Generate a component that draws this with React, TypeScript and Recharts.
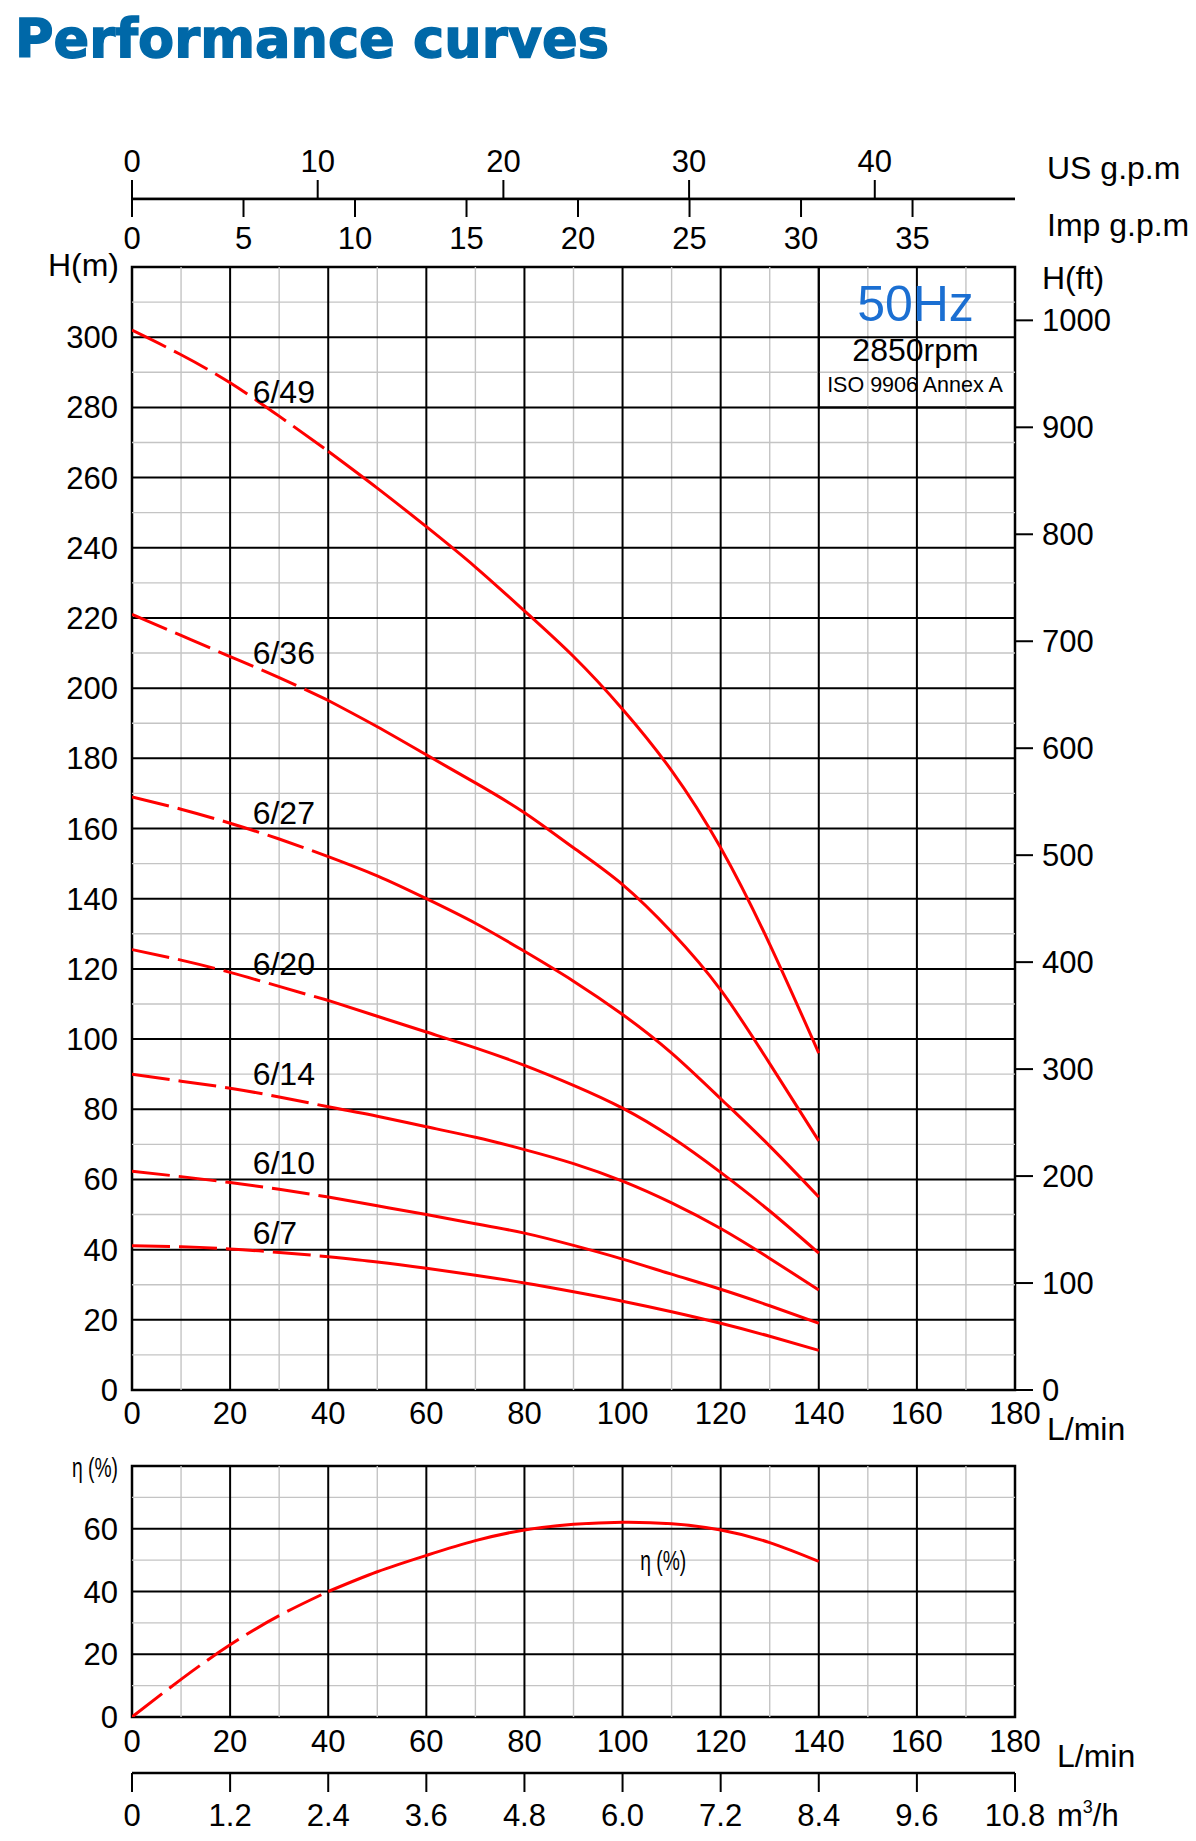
// Performance curves – pump head and efficiency chart (50Hz, 2850rpm)

import React from 'react';
import { LineChart, Line, XAxis, YAxis, ReferenceLine, ReferenceArea, ReferenceDot } from 'recharts';

const FONT = '"Liberation Sans", Arial, Helvetica, sans-serif';
const RED = '#ff0000';
const GRID_MINOR = '#c4c4c4';

// flow rate, L/min
const flow = [0, 10, 20, 30, 40, 50, 60, 70, 80, 90, 100, 110, 120, 130, 140];

// head, m (one list per model)
const head49 = [302, 295, 287, 277.5, 267.5, 257, 246, 234.5, 222, 209, 194, 176.5, 154.5, 127, 96];
const head36 = [221, 215, 209, 203, 196.5, 189, 181, 173, 164.5, 154.5, 144, 130.5, 114, 93, 71];
const head27 = [169, 165.5, 161.5, 157, 152, 146.5, 140, 133, 125, 116.5, 107, 96, 83, 69.5, 55];
const head20 = [125.5, 122.5, 119, 115, 111, 106.5, 102, 97.5, 92.5, 86.8, 80.3, 72, 62, 51, 39];
const head14 = [90, 88, 86, 83.5, 80.7, 78, 75, 72, 68.5, 64.5, 59.5, 53.3, 46, 37.5, 28.5];
const head10 = [62.3, 60.8, 59.1, 57.2, 55, 52.5, 50, 47.4, 44.7, 41.2, 37.3, 33, 28.7, 24, 19];
const head7 = [41.1, 40.8, 40.2, 39.2, 38, 36.5, 34.7, 32.7, 30.5, 28, 25.3, 22.3, 19, 15.3, 11.3];

// efficiency, %
const efficiency = [0, 12, 23, 32.3, 40, 46.3, 51.5, 56.2, 59.6, 61.4, 62.1, 61.6, 59.6, 55.6, 49.6];

const models = ['6/49', '6/36', '6/27', '6/20', '6/14', '6/10', '6/7'];
const heads = [head49, head36, head27, head20, head14, head10, head7];
// where each model name sits (L/min, m at text baseline)
const labelFlow = [24.6, 24.6, 24.6, 24.6, 24.6, 24.6, 24.6];
const labelHead = [281.3, 207, 161.3, 118.2, 86.9, 61.5, 41.6];

// curves are dashed below this flow
const DASH_END = 40;

// axis ticks
const flowTicks = [0, 20, 40, 60, 80, 100, 120, 140, 160, 180];
const flowMinor = [10, 30, 50, 70, 90, 110, 130, 150, 170];
const headTicks = [0, 20, 40, 60, 80, 100, 120, 140, 160, 180, 200, 220, 240, 260, 280, 300];
const headMajor = [20, 40, 60, 80, 100, 120, 140, 160, 180, 200, 220, 240, 260, 280, 300];
const headMinor = [10, 30, 50, 70, 90, 110, 130, 150, 170, 190, 210, 230, 250, 270, 290, 310];
const feetTicks = [0, 100, 200, 300, 400, 500, 600, 700, 800, 900, 1000];
const usTicks = [0, 10, 20, 30, 40];
const impTicks = [0, 5, 10, 15, 20, 25, 30, 35];
const effTicks = [0, 20, 40, 60];
const effMajor = [20, 40, 60];
const effMinor = [10, 30, 50, 70];
const m3hTicks = [0, 1.2, 2.4, 3.6, 4.8, 6.0, 7.2, 8.4, 9.6, 10.8];

const FLOW_MAX = 180;
const HEAD_MAX = 320;
const EFF_MAX = 80;
const M_PER_FT = 0.3048;
const LPM_PER_USGPM = 3.785411784;
const LPM_PER_IMPGPM = 4.54609;
const M3H_PER_LPM = 0.06;

const tickStyle = { fill: '#000', fontSize: 31, fontFamily: FONT };

const part = (values: number[], dashed: boolean) =>
  flow
    .map((q, i) => ({ q, v: values[i] }))
    .filter((p) => (dashed ? p.q <= DASH_END : p.q >= DASH_END));

// the same flow ticks expressed in another unit, so the extra scales have data
const scaleData = (factor: number) => flowTicks.map((q) => ({ u: q * factor }));

const gridLines = (yAxisId: string, yMinor: number[], yMajor: number[]) => [
  ...flowMinor.map((x) => (
    <ReferenceLine key={'vx' + x} yAxisId={yAxisId} x={x} stroke={GRID_MINOR} strokeWidth={1.4} />
  )),
  ...yMinor.map((y) => (
    <ReferenceLine key={'hy' + y} yAxisId={yAxisId} y={y} stroke={GRID_MINOR} strokeWidth={1.4} />
  )),
  ...flowTicks.slice(1, -1).map((x) => (
    <ReferenceLine key={'vX' + x} yAxisId={yAxisId} x={x} stroke="#000" strokeWidth={2} />
  )),
  ...yMajor.map((y) => (
    <ReferenceLine key={'hY' + y} yAxisId={yAxisId} y={y} stroke="#000" strokeWidth={2} />
  )),
];

const curve = (key: string, yAxisId: string, values: number[]) => [
  <Line
    key={key + '-d'}
    yAxisId={yAxisId}
    data={part(values, true)}
    dataKey="v"
    type="natural"
    stroke={RED}
    strokeWidth={3}
    strokeDasharray="38 9"
    dot={false}
    activeDot={false}
    isAnimationActive={false}
  />,
  <Line
    key={key + '-s'}
    yAxisId={yAxisId}
    data={part(values, false)}
    dataKey="v"
    type="natural"
    stroke={RED}
    strokeWidth={3}
    dot={false}
    activeDot={false}
    isAnimationActive={false}
  />,
];

const TopScales = () => (
  <>
    <div style={{ position: 'absolute', left: 0, top: 0 }}>
      <LineChart
        width={1196}
        height={200}
        data={scaleData(1 / LPM_PER_USGPM)}
        margin={{ top: 139, right: 181, bottom: 0, left: 132 }}
      >
        <XAxis
          xAxisId="us"
          dataKey="u"
          orientation="top"
          type="number"
          domain={[0, FLOW_MAX / LPM_PER_USGPM]}
          allowDataOverflow
          ticks={usTicks}
          interval={0}
          height={60}
          tickSize={19}
          tickMargin={8}
          axisLine={{ stroke: '#000', strokeWidth: 2.5 }}
          tickLine={{ stroke: '#000', strokeWidth: 2 }}
          tick={tickStyle}
        />
      </LineChart>
    </div>
    <div style={{ position: 'absolute', left: 0, top: 0 }}>
      <LineChart
        width={1196}
        height={259}
        data={scaleData(1 / LPM_PER_IMPGPM)}
        margin={{ top: 198, right: 181, bottom: 0, left: 132 }}
      >
        <XAxis
          xAxisId="imp"
          dataKey="u"
          orientation="bottom"
          type="number"
          domain={[0, FLOW_MAX / LPM_PER_IMPGPM]}
          allowDataOverflow
          ticks={impTicks}
          interval={0}
          height={60}
          tickSize={18}
          tickMargin={10}
          axisLine={{ stroke: '#000', strokeWidth: 2.5 }}
          tickLine={{ stroke: '#000', strokeWidth: 2 }}
          tick={tickStyle}
        />
      </LineChart>
    </div>
  </>
);

const HeadChart = () => (
  <div style={{ position: 'absolute', left: 0, top: 0 }}>
    <LineChart width={1196} height={1450} margin={{ top: 267, right: 0, bottom: 0, left: 0 }}>
      <XAxis
        type="number"
        dataKey="q"
        domain={[0, FLOW_MAX]}
        allowDataOverflow
        ticks={flowTicks}
        interval={0}
        height={60}
        tickSize={0}
        tickMargin={12}
        tickLine={false}
        axisLine={false}
        tick={tickStyle}
      />
      <YAxis
        yAxisId="m"
        type="number"
        domain={[0, HEAD_MAX]}
        allowDataOverflow
        ticks={headTicks}
        interval={0}
        width={132}
        tickSize={0}
        tickMargin={14}
        tickLine={false}
        axisLine={false}
        tick={tickStyle}
      />
      <YAxis
        yAxisId="ft"
        orientation="right"
        type="number"
        domain={[0, HEAD_MAX / M_PER_FT]}
        allowDataOverflow
        ticks={feetTicks}
        interval={0}
        width={181}
        tickSize={18}
        tickMargin={9}
        axisLine={false}
        tickLine={{ stroke: '#000', strokeWidth: 2 }}
        tick={tickStyle}
      />
      {gridLines('m', headMinor, headMajor)}
      <ReferenceArea
        yAxisId="m"
        x1={140}
        x2={FLOW_MAX}
        y1={280}
        y2={HEAD_MAX}
        fill="#fff"
        fillOpacity={1}
        stroke="#000"
        strokeWidth={2}
      />
      <ReferenceArea
        yAxisId="m"
        x1={0}
        x2={FLOW_MAX}
        y1={0}
        y2={HEAD_MAX}
        fill="none"
        stroke="#000"
        strokeWidth={2.5}
      />
      {models.map((m, i) => curve(m, 'm', heads[i]))}
      {models.map((m, i) => (
        <ReferenceDot
          key={'label' + m}
          yAxisId="m"
          x={labelFlow[i]}
          y={labelHead[i]}
          r={0}
          shape={(p: any) => (
            <text x={p.cx} y={p.cy} fontSize={32} fontFamily={FONT} fill="#000">
              {m}
            </text>
          )}
        />
      ))}
    </LineChart>
  </div>
);

const EfficiencyChart = () => (
  <div style={{ position: 'absolute', left: 0, top: 1400 }}>
    <LineChart width={1196} height={367} margin={{ top: 66, right: 181, bottom: 0, left: 0 }}>
      <XAxis
        type="number"
        dataKey="q"
        domain={[0, FLOW_MAX]}
        allowDataOverflow
        ticks={flowTicks}
        interval={0}
        height={50}
        tickSize={0}
        tickMargin={13}
        tickLine={false}
        axisLine={false}
        tick={tickStyle}
      />
      <YAxis
        yAxisId="e"
        type="number"
        domain={[0, EFF_MAX]}
        allowDataOverflow
        ticks={effTicks}
        interval={0}
        width={132}
        tickSize={0}
        tickMargin={14}
        tickLine={false}
        axisLine={false}
        tick={tickStyle}
      />
      {gridLines('e', effMinor, effMajor)}
      <ReferenceArea
        yAxisId="e"
        x1={0}
        x2={FLOW_MAX}
        y1={0}
        y2={EFF_MAX}
        fill="none"
        stroke="#000"
        strokeWidth={2.5}
      />
      {curve('eff', 'e', efficiency)}
      <ReferenceDot
        yAxisId="e"
        x={103.6}
        y={47}
        r={0}
        shape={(p: any) => (
          <text
            x={p.cx}
            y={p.cy}
            fontSize={28}
            fontFamily={FONT}
            fill="#000"
            textLength={46}
            lengthAdjust="spacingAndGlyphs"
          >
            η (%)
          </text>
        )}
      />
    </LineChart>
  </div>
);

const CubicScale = () => (
  <div style={{ position: 'absolute', left: 0, top: 1700 }}>
    <LineChart
      width={1196}
      height={140}
      data={scaleData(M3H_PER_LPM)}
      margin={{ top: 0, right: 181, bottom: 0, left: 132 }}
    >
      <XAxis
        xAxisId="m3h"
        dataKey="u"
        type="number"
        domain={[0, FLOW_MAX * M3H_PER_LPM]}
        allowDataOverflow
        ticks={m3hTicks}
        interval={0}
        height={67}
        tickSize={19}
        tickMargin={12}
        axisLine={{ stroke: '#000', strokeWidth: 2.7 }}
        tickLine={{ stroke: '#000', strokeWidth: 2 }}
        tick={tickStyle}
        tickFormatter={(v: number) => (v === 0 ? '0' : v.toFixed(1))}
      />
    </LineChart>
  </div>
);

const Texts = () => (
  <svg
    width={1196}
    height={1841}
    style={{ position: 'absolute', left: 0, top: 0, pointerEvents: 'none' }}
    fontFamily={FONT}
  >
    <text
      x={15}
      y={57}
      fontFamily='"DejaVu Sans", sans-serif'
      fontWeight="bold"
      fontSize={53}
      fill="#0068a8"
      stroke="#0068a8"
      strokeWidth={1.4}
      textLength={594}
      lengthAdjust="spacingAndGlyphs"
    >
      Performance curves
    </text>
    <text x={1047} y={179} fontSize={32}>US g.p.m</text>
    <text x={1047} y={236} fontSize={32}>Imp g.p.m</text>
    <text x={119} y={276} fontSize={32} textAnchor="end">H(m)</text>
    <text x={1042} y={289} fontSize={32}>H(ft)</text>
    <text x={915.5} y={321} fontSize={50} textAnchor="middle" fill="#1b6fd2">50Hz</text>
    <text x={915.5} y={361} fontSize={32} textAnchor="middle">2850rpm</text>
    <text x={915} y={392} fontSize={21.5} textAnchor="middle">ISO 9906 Annex A</text>
    <text x={1047} y={1440} fontSize={32}>L/min</text>
    <text x={72} y={1477} fontSize={28} textLength={46} lengthAdjust="spacingAndGlyphs">η (%)</text>
    <text x={1057} y={1767} fontSize={32}>L/min</text>
    <text x={1057} y={1826} fontSize={31}>
      m<tspan fontSize={18} dy={-13}>3</tspan><tspan dy={13}>/h</tspan>
    </text>
  </svg>
);

export default function App() {
  return (
    <div style={{ position: 'absolute', left: 0, top: 0, width: 1196, height: 1841, background: '#fff' }}>
      <TopScales />
      <HeadChart />
      <EfficiencyChart />
      <CubicScale />
      <Texts />
    </div>
  );
}
